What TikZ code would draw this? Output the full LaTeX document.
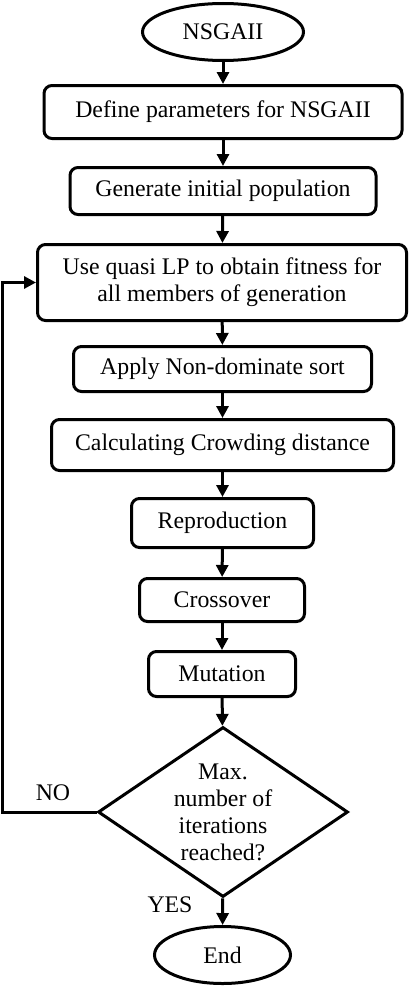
\documentclass[tikz,border=0pt]{standalone}
\usepackage{fontspec}
\setmainfont{Liberation Serif}
\usetikzlibrary{shapes.geometric,arrows.meta}

\tikzset{
  every node/.style={font=\fontsize{23.8}{27}\selectfont},
  proc/.style={draw,line width=3pt,rounded corners=8pt,align=center},
  term/.style={draw,ellipse,line width=3pt,inner sep=0pt},
  decide/.style={draw,diamond,line width=3pt,inner sep=0pt,aspect=1.46,align=center},
  arr/.style={line width=3pt,-{Triangle[length=12pt,width=12pt]}}
}

\begin{document}
\begin{tikzpicture}[x=1pt,y=-1pt]
  \useasboundingbox (0,0) rectangle (409,998);

  \node[term,minimum width=161,minimum height=57] (start) at (223,32) {NSGAII};
  \node[proc,minimum width=358,minimum height=53] (define) at (223,112) {Define parameters for NSGAII};
  \node[proc,minimum width=306,minimum height=47] (init) at (223,191) {Generate initial population};
  \node[proc,minimum width=369,minimum height=76] (quasi) at (222,282.5) {Use quasi LP to obtain fitness for\\all members of generation};
  \node[proc,minimum width=298,minimum height=45] (sort) at (222.5,369) {Apply Non-dominate sort};
  \node[proc,minimum width=342,minimum height=51] (crowd) at (222.5,445) {Calculating Crowding distance};
  \node[proc,minimum width=182,minimum height=49] (repro) at (222.5,523) {Reproduction};
  \node[proc,minimum width=165,minimum height=43] (cross) at (222,600) {Crossover};
  \node[proc,minimum width=147,minimum height=45] (mut) at (222,674) {Mutation};
  \node[decide,minimum width=250,minimum height=170] (maxit) at (223,812) {Max.\\number of\\iterations\\reached?};
  \node[term,minimum width=136,minimum height=57] (stop) at (222.5,955) {End};

  \coordinate (back) at (2,812);
  \node (no) at (53,793) {NO};
  \node (yes) at (170,905) {YES};

  % main flow
  \draw[arr] (start) -- (define);
  \draw[arr] (define) -- (init);
  \draw[arr] (init) -- (quasi);
  \draw[arr] (quasi) -- (sort);
  \draw[arr] (sort) -- (crowd);
  \draw[arr] (crowd) -- (repro);
  \draw[arr] (repro) -- (cross);
  \draw[arr] (cross) -- (mut);
  \draw[arr] (mut) -- (maxit);
  \draw[arr] (maxit) -- (stop);

  % loop back
  \draw[arr] (maxit.west) -- (back) |- (quasi.west);
\end{tikzpicture}
\end{document}
